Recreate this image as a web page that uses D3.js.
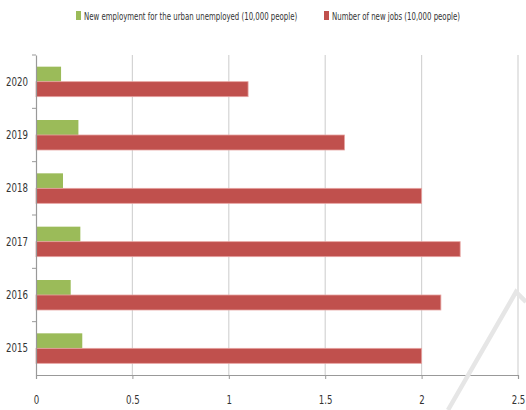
<!DOCTYPE html>
<html>
<head>
<meta charset="utf-8">
<script src="https://cdn.jsdelivr.net/npm/d3@7"></script>
<style>
  body { margin: 0; background: #fff; }
  text { font-family: "DejaVu Sans Condensed", "Liberation Sans", sans-serif; fill: #333; }
</style>
</head>
<body>
<div id="chart"></div>
<script>
// Data
var years = ["2015", "2016", "2017", "2018", "2019", "2020"];
var urbanUnemployed = [0.24, 0.18, 0.23, 0.14, 0.22, 0.13];
var newJobs = [2.0, 2.1, 2.2, 2.0, 1.6, 1.1];
var seriesNames = ["New employment for the urban unemployed (10,000 people)", "Number of new jobs (10,000 people)"];
var xTicks = [0, 0.5, 1, 1.5, 2, 2.5];

var svgWidth = 526;
var svgHeight = 410;
var margin = { top: 55, right: 8, bottom: 35, left: 36 };
var chartWidth = svgWidth - margin.left - margin.right;
var chartHeight = svgHeight - margin.top - margin.bottom;

var svg = d3.select("#chart").append("svg")
    .attr("width", svgWidth)
    .attr("height", svgHeight);

var chartGroup = svg.append("g")
    .attr("transform", `translate(${margin.left}, ${margin.top})`);

var xScale = d3.scaleLinear().domain([0, 2.5]).range([0, 482]);

// top is 2020, bottom is 2015
var yScale = d3.scaleBand()
    .domain(years.slice().reverse())
    .range([0, chartHeight]);

// gridlines
chartGroup.selectAll("line.grid")
    .data(xTicks.slice(1))
    .enter()
    .append("line")
    .attr("class", "grid")
    .attr("x1", d => xScale(d))
    .attr("x2", d => xScale(d))
    .attr("y1", 0)
    .attr("y2", chartHeight)
    .attr("stroke", "#d4d4d4")
    .attr("stroke-width", 1.2);

// bars
var barH = 15;
var offset = (yScale.bandwidth() - 2 * barH) / 2;

chartGroup.selectAll("rect.green")
    .data(years)
    .enter()
    .append("rect")
    .attr("class", "green")
    .attr("x", xScale(0))
    .attr("y", d => yScale(d) + offset)
    .attr("width", (d, i) => xScale(urbanUnemployed[i]) - xScale(0))
    .attr("height", barH)
    .attr("fill", "#9bbb59");

chartGroup.selectAll("rect.red")
    .data(years)
    .enter()
    .append("rect")
    .attr("class", "red")
    .attr("x", xScale(0))
    .attr("y", d => yScale(d) + offset + barH)
    .attr("width", (d, i) => xScale(newJobs[i]) - xScale(0))
    .attr("height", barH)
    .attr("fill", "#c0504d")
    .attr("stroke", "#e7a3a1")
    .attr("stroke-width", 0.8);

// x axis
var bottomAxis = d3.axisBottom(xScale).tickValues(xTicks).tickSize(4).tickFormat(d3.format("~g"));
var xAxis = chartGroup.append("g")
    .attr("transform", `translate(0, ${chartHeight})`)
    .call(bottomAxis);
xAxis.select(".domain").attr("stroke", "#999").attr("stroke-width", 1.2);
xAxis.selectAll(".tick line").attr("stroke", "#999");
xAxis.selectAll("text")
    .attr("y", 0)
    .attr("dy", 0)
    .attr("transform", "translate(0, 29) scale(0.8, 1)")
    .style("font-size", "12px")
    .attr("fill", "#333");

// y axis
var leftAxis = d3.axisLeft(yScale).tickSize(0);
var yAxis = chartGroup.append("g").call(leftAxis);
yAxis.select(".domain").attr("stroke", "#999").attr("stroke-width", 1.2);
yAxis.selectAll("text")
    .attr("x", 0)
    .attr("transform", "translate(-8, 0) scale(0.8, 1)")
    .style("font-size", "12px")
    .attr("fill", "#333");

// small ticks at category boundaries
chartGroup.selectAll("line.ytick")
    .data(years)
    .enter()
    .append("line")
    .attr("class", "ytick")
    .attr("x1", -4)
    .attr("x2", 0)
    .attr("y1", d => yScale(d))
    .attr("y2", d => yScale(d))
    .attr("stroke", "#999");

// legend
var legendItems = [
    { name: seriesNames[0], color: "#9bbb59", x: 76 },
    { name: seriesNames[1], color: "#c0504d", x: 324 }
];
var legend = svg.selectAll("g.legend")
    .data(legendItems)
    .enter()
    .append("g")
    .attr("class", "legend")
    .attr("transform", d => `translate(${d.x}, 11)`);
legend.append("rect")
    .attr("width", 5)
    .attr("height", 9)
    .attr("fill", d => d.color);
legend.append("text")
    .attr("transform", "translate(8, 9) scale(0.74, 1)")
    .style("font-size", "10.5px")
    .text(d => d.name);

// faint watermark stroke
svg.append("polyline")
    .attr("points", "448,410 516,292 526,302")
    .attr("fill", "none")
    .attr("stroke", "#e6e6e6")
    .attr("stroke-width", 4.5);
</script>
</body>
</html>
